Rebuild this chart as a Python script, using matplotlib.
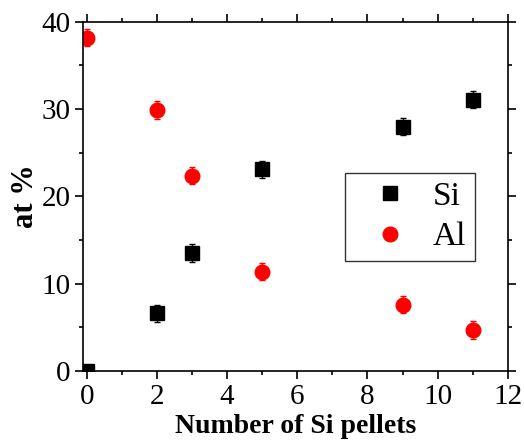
import matplotlib
matplotlib.use('Agg')
import matplotlib.pyplot as plt
from matplotlib.ticker import MultipleLocator

# composition vs number of Si pellets
pellets_si = [0, 2, 3, 5, 9, 11]
si_at = [0.0, 6.6, 13.5, 23.1, 28.0, 31.1]
si_err = [0.0, 1.0, 1.0, 1.0, 1.0, 1.0]

pellets_al = [0, 2, 3, 5, 9, 11]
al_at = [38.2, 29.9, 22.4, 11.4, 7.6, 4.7]
al_err = [1.0, 1.0, 1.0, 1.0, 1.0, 1.0]

plt.rcParams['font.family'] = ['Liberation Serif', 'DejaVu Serif']

fig = plt.figure(figsize=(5.24, 4.45), dpi=100)
ax = fig.add_axes([0.159, 0.166, 0.81, 0.785])

ax.errorbar(pellets_si, si_at, yerr=si_err, fmt='s', color='black', ms=9.5,
            capsize=2.5, elinewidth=1, capthick=1, label='Si')
ax.errorbar(pellets_al, al_at, yerr=al_err, fmt='o', color='red', ms=10.5,
            capsize=2.5, elinewidth=1, capthick=1, label='Al')

ax.set_xlim(-0.1, 12)
ax.set_ylim(0, 40)
ax.xaxis.set_major_locator(MultipleLocator(2))
ax.xaxis.set_minor_locator(MultipleLocator(1))
ax.yaxis.set_major_locator(MultipleLocator(10))
ax.yaxis.set_minor_locator(MultipleLocator(5))
ax.tick_params(which='both', direction='out', top=True, right=True, width=1.2)
ax.tick_params(which='major', length=6, labelsize=21, pad=3)
ax.tick_params(which='minor', length=3)
for s in ax.spines.values():
    s.set_linewidth(1.2)

ax.set_xlabel('Number of Si pellets', fontsize=20, fontweight='bold', labelpad=3)
ax.set_ylabel('at %', fontsize=22, fontweight='bold', labelpad=1)

handles, labels = ax.get_legend_handles_labels()
handles = [h[0] for h in handles]
leg = ax.legend(handles, labels, loc='upper left', bbox_to_anchor=(0.616, 0.567),
                fontsize=24, frameon=True, fancybox=False, edgecolor='black',
                handletextpad=0.2, borderpad=0.25, labelspacing=0.3, handlelength=2.2,
                borderaxespad=0)
leg.get_frame().set_linewidth(1)

fig.savefig('out.png', dpi=100)
